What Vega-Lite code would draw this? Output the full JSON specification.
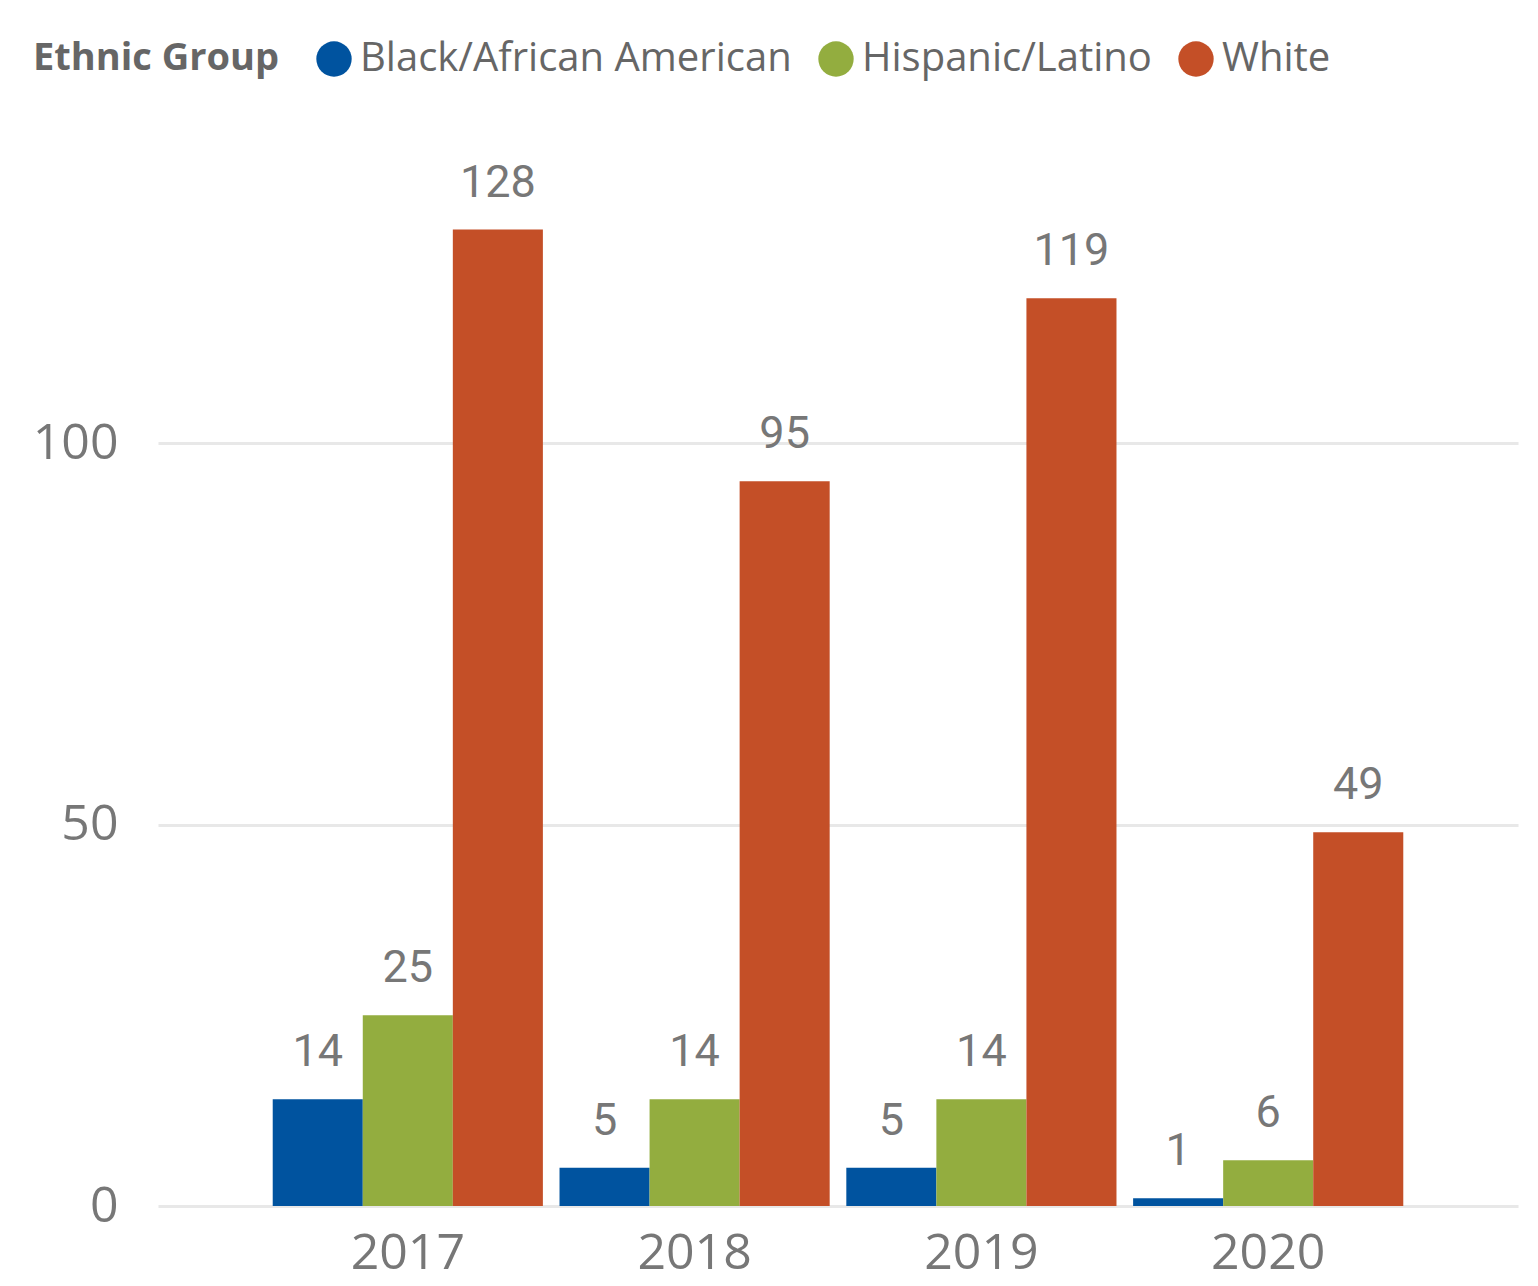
{
  "$schema": "https://vega.github.io/schema/vega-lite/v6.json",
  "width": 1360,
  "height": 1068,
  "autosize": {"type": "none"},
  "padding": {"left": 158, "top": 138, "right": 20, "bottom": 80},
  "background": "white",
  "config": {"view": {"stroke": null}},
  "data": {"values": [
    {"year": "2017", "group": "Black/African American", "count": 14},
    {"year": "2017", "group": "Hispanic/Latino", "count": 25},
    {"year": "2017", "group": "White", "count": 128},
    {"year": "2018", "group": "Black/African American", "count": 5},
    {"year": "2018", "group": "Hispanic/Latino", "count": 14},
    {"year": "2018", "group": "White", "count": 95},
    {"year": "2019", "group": "Black/African American", "count": 5},
    {"year": "2019", "group": "Hispanic/Latino", "count": 14},
    {"year": "2019", "group": "White", "count": 119},
    {"year": "2020", "group": "Black/African American", "count": 1},
    {"year": "2020", "group": "Hispanic/Latino", "count": 6},
    {"year": "2020", "group": "White", "count": 49}
  ]},
  "encoding": {
    "x": {
      "field": "year", "type": "nominal",
      "scale": {"paddingInner": 0.058, "paddingOuter": 0.4},
      "axis": {
        "title": null, "domain": false, "ticks": false, "grid": false,
        "labelAngle": 0, "labelFont": "Open Sans", "labelFontSize": 50,
        "labelColor": "#777777", "labelPadding": 22
      }
    },
    "xOffset": {"field": "group", "type": "nominal", "scale": {"paddingInner": 0, "paddingOuter": 0}},
    "y": {
      "field": "count", "type": "quantitative",
      "scale": {"domain": [0, 140], "nice": false},
      "axis": {
        "title": null, "domain": false, "ticks": false,
        "values": [0, 50, 100], "gridColor": "#E8E8E8", "gridWidth": 3,
        "labelFont": "Open Sans", "labelFontSize": 50, "labelColor": "#777777",
        "labelPadding": 40
      }
    }
  },
  "layer": [
    {
      "mark": {"type": "bar"},
      "encoding": {
        "color": {
          "field": "group", "type": "nominal",
          "scale": {"domain": ["Black/African American", "Hispanic/Latino", "White"], "range": ["#00539F", "#93AD3F", "#C44F27"]},
          "legend": {
            "title": "Ethnic Group", "orient": "none", "legendX": -125, "legendY": -99,
            "direction": "horizontal", "titleOrient": "left",
            "titleFont": "Open Sans", "titleFontSize": 38, "titleFontWeight": "bold", "titleColor": "#666666",
            "titlePadding": 34, "titleBaseline": "middle", "titleLimit": 0,
            "labelFont": "Open Sans", "labelFontSize": 40, "labelColor": "#666666", "labelLimit": 0,
            "labelOffset": 6, "columnPadding": 24,
            "symbolType": "circle", "symbolSize": 1250, "symbolStrokeWidth": 0
          }
        }
      }
    },
    {
      "mark": {"type": "text", "baseline": "bottom", "dy": -24, "font": "Roboto", "fontSize": 45, "color": "#777777"},
      "encoding": {"text": {"field": "count", "type": "quantitative"}}
    }
  ]
}
